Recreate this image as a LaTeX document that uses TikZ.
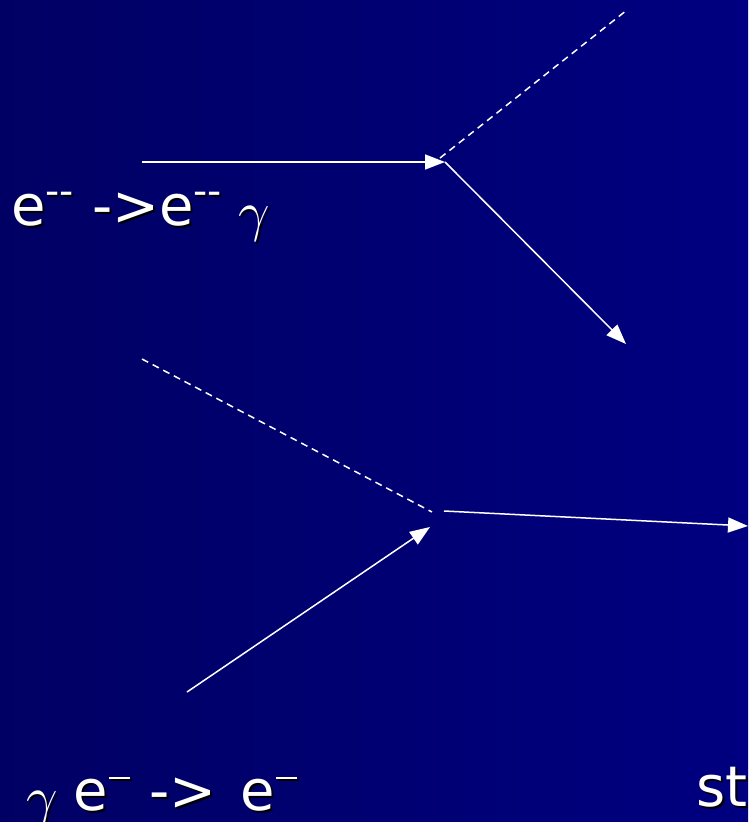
\RequirePackage{fix-cm}
\documentclass[tikz,border=0pt]{standalone}
\usepackage{fontspec}
\setmainfont{DejaVu Sans}
\usetikzlibrary{arrows.meta}
\definecolor{bgleft}{RGB}{0,0,100}
\definecolor{bgright}{RGB}{0,0,128}
\tikzset{
  line/.style={white, line width=1.5pt},
  arr/.style={line, -{Triangle[length=20pt,width=15pt]}},
  dash line/.style={line, dash pattern=on 7pt off 5pt},
  lbl/.style={anchor=base west, inner sep=0pt, white, font=\fontsize{56}{60}\selectfont},
  shadow/.style={lbl, black}
}
\newcommand{\gam}{\raisebox{-0.1em}{$\gamma$}}
\newcommand{\supbar}{\hspace{1pt}\rule[31pt]{21pt}{2.5pt}}
\newcommand{\toptext}{e\textsuperscript{-{}-} -{}>e\textsuperscript{-{}-}\hspace{-2pt} \gam}
\newcommand{\bottext}{\gam\hspace{-2pt} e\supbar\hspace{2pt} -{}>\hspace{6pt} e\supbar}
\begin{document}
\begin{tikzpicture}[x=1pt,y=-1pt]
  \shade[left color=bgleft, right color=bgright] (0,0) rectangle (748,822);
  \useasboundingbox (0,0) rectangle (748,822);
  \clip (0,0) rectangle (748,822);
  % vertices
  \coordinate (v1) at (445,162);
  \coordinate (a) at (142,162);
  \coordinate (b) at (627,10);
  \coordinate (c) at (626,344);
  \coordinate (d) at (142,359);
  \coordinate (e) at (187,692);
  \coordinate (f) at (748,526);
  \coordinate (d1) at (440,158);
  \coordinate (d2) at (432,512);
  \coordinate (v2in) at (430,527);
  \coordinate (v2out) at (444,511);
  % top process
  \draw[arr] (a) -- (v1);
  \draw[dash line] (d1) -- (b);
  \draw[arr] (v1) -- (c);
  % bottom process
  \draw[dash line] (d) -- (d2);
  \draw[arr] (e) -- (v2in);
  \draw[arr] (v2out) -- (f);
  % labels with shadows
  \node[shadow] (t1s) at (13,227) {\toptext};
  \node[lbl] (t1) at (11,225) {\toptext};
  \node[shadow] (t2s) at (28,812) {\bottext};
  \node[lbl] (t2) at (26,810) {\bottext};
  \node[shadow] (t3s) at (698,808) {st};
  \node[lbl] (t3) at (696,806) {st};
\end{tikzpicture}
\end{document}
